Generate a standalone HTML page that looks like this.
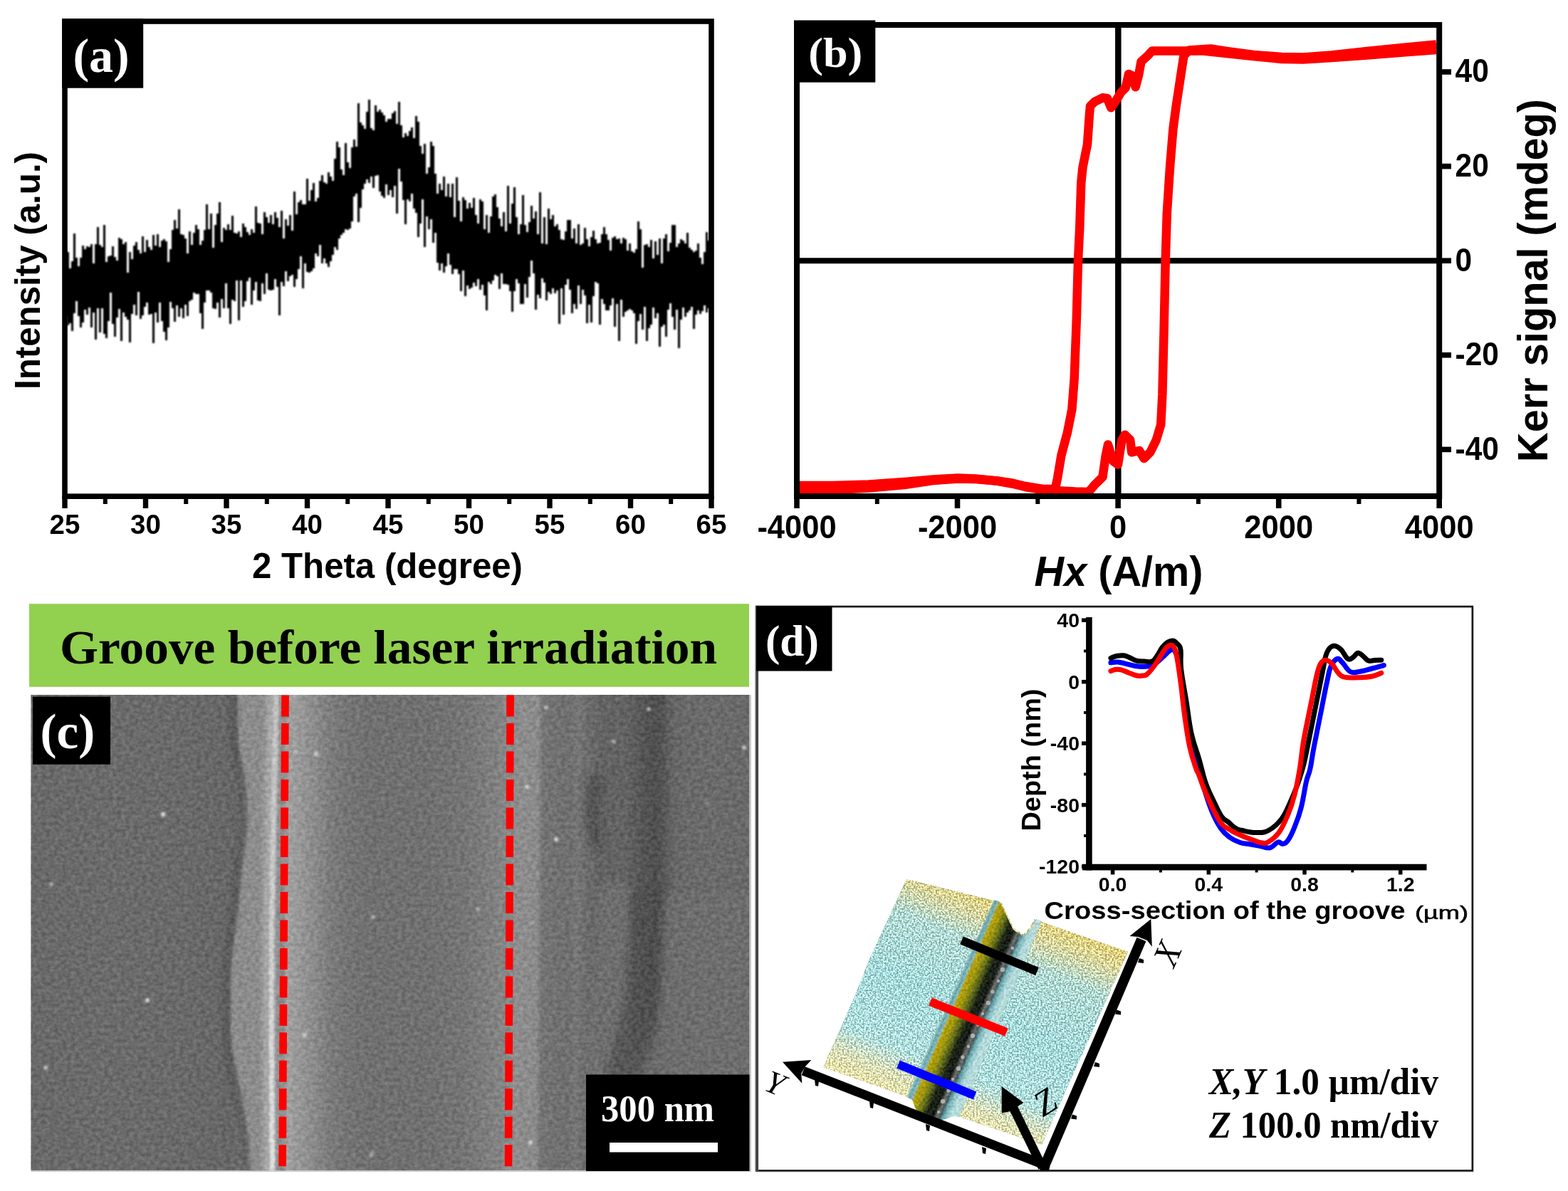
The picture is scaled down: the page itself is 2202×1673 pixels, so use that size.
<!DOCTYPE html>
<html lang="en">
<head>
<meta charset="utf-8">
<title>Figure: XRD, Kerr hysteresis, SEM and AFM of groove before laser irradiation</title>
<style>
html,body{margin:0;padding:0;background:#fff;}
body{width:2202px;height:1673px;overflow:hidden;font-family:'Liberation Sans', Arial, Helvetica, sans-serif;}
svg{display:block;}
text{white-space:pre;}
</style>
</head>
<body>
<svg width="2202" height="1673" viewBox="0 0 2202 1673">
<rect width="2202" height="1673" fill="#fff"/>
<defs>
<clipPath id="clipA"><rect x="91" y="30" width="908" height="667"/></clipPath>
<clipPath id="clipB"><rect x="1119" y="35" width="899" height="664"/></clipPath>
<filter id="soft" x="-2%" y="-10%" width="104%" height="120%"><feGaussianBlur stdDeviation="0.8"/></filter>
<linearGradient id="semg" gradientUnits="userSpaceOnUse" x1="43.5" y1="0" x2="1052.5" y2="0" gradientTransform="matrix(1 0 -0.00600 1 5.856 0)">
<stop offset="0.0005" stop-color="rgb(105,105,105)"/>
<stop offset="0.1056" stop-color="rgb(107,107,107)"/>
<stop offset="0.2047" stop-color="rgb(106,106,106)"/>
<stop offset="0.2542" stop-color="rgb(104,104,104)"/>
<stop offset="0.2839" stop-color="rgb(102,102,102)"/>
<stop offset="0.3494" stop-color="rgb(150,150,150)"/>
<stop offset="0.3612" stop-color="rgb(160,160,160)"/>
<stop offset="0.3781" stop-color="rgb(150,150,150)"/>
<stop offset="0.3979" stop-color="rgb(138,138,138)"/>
<stop offset="0.4177" stop-color="rgb(124,124,124)"/>
<stop offset="0.4425" stop-color="rgb(116,116,116)"/>
<stop offset="0.4722" stop-color="rgb(112,112,112)"/>
<stop offset="0.5515" stop-color="rgb(112,112,112)"/>
<stop offset="0.6011" stop-color="rgb(116,116,116)"/>
<stop offset="0.6407" stop-color="rgb(126,126,126)"/>
<stop offset="0.6625" stop-color="rgb(134,134,134)"/>
<stop offset="0.6754" stop-color="rgb(141,141,141)"/>
<stop offset="0.7061" stop-color="rgb(139,139,139)"/>
<stop offset="0.7131" stop-color="rgb(116,116,116)"/>
<stop offset="0.7498" stop-color="rgb(111,111,111)"/>
<stop offset="0.7616" stop-color="rgb(118,118,118)"/>
<stop offset="0.7716" stop-color="rgb(110,110,110)"/>
<stop offset="0.7944" stop-color="rgb(99,99,99)"/>
<stop offset="0.8290" stop-color="rgb(99,99,99)"/>
<stop offset="0.8489" stop-color="rgb(87,87,87)"/>
<stop offset="0.8687" stop-color="rgb(79,79,79)"/>
<stop offset="0.8806" stop-color="rgb(85,85,85)"/>
<stop offset="0.8935" stop-color="rgb(101,101,101)"/>
<stop offset="0.9083" stop-color="rgb(105,105,105)"/>
<stop offset="0.9480" stop-color="rgb(107,107,107)"/>
<stop offset="0.9995" stop-color="rgb(105,105,105)"/>
</linearGradient>
<filter id="semnoise" x="0" y="0" width="100%" height="100%" color-interpolation-filters="sRGB">
<feTurbulence type="fractalNoise" baseFrequency="0.17 0.2" numOctaves="2" seed="12" result="n"/>
<feColorMatrix in="n" type="matrix" values="1.5 0 0 0 -0.25  1.5 0 0 0 -0.25  1.5 0 0 0 -0.25  0 0 0 0 1" result="g"/>
<feComposite in="SourceGraphic" in2="g" operator="arithmetic" k1="0" k2="1" k3="0.14" k4="-0.07"/>
</filter>
<filter id="b6" x="-50%" y="-10%" width="200%" height="120%"><feGaussianBlur stdDeviation="6"/></filter>
<filter id="b3" x="-50%" y="-10%" width="200%" height="120%"><feGaussianBlur stdDeviation="3"/></filter>
<filter id="b2" x="-50%" y="-10%" width="200%" height="120%"><feGaussianBlur stdDeviation="1.8"/></filter>
<filter id="b15" x="-50%" y="-50%" width="200%" height="200%"><feGaussianBlur stdDeviation="1.6"/></filter>
<linearGradient id="ridgeg" x1="0" y1="0" x2="0" y2="1"><stop offset="0" stop-color="#c0c0c0"/><stop offset="0.5" stop-color="#cdcdcd"/><stop offset="1" stop-color="#e0e0e0"/></linearGradient>

<clipPath id="clipC"><rect x="43.5" y="976.0" width="1009.0" height="668.4"/></clipPath>
<linearGradient id="afmv" gradientUnits="userSpaceOnUse" x1="1430" y1="1275" x2="1312" y2="1560">
<stop offset="0" stop-color="#d8c670"/><stop offset="0.08" stop-color="#d2cc90"/><stop offset="0.22" stop-color="#a8d0c8"/>
<stop offset="0.5" stop-color="#9cd0d0"/><stop offset="0.80" stop-color="#a6d6d4"/><stop offset="0.92" stop-color="#d2d6ac"/><stop offset="1" stop-color="#e2dca0"/>
</linearGradient>
<linearGradient id="afmg" gradientUnits="userSpaceOnUse" x1="1334" y1="1402" x2="1396" y2="1429">
<stop offset="0" stop-color="#a8d2d4"/><stop offset="0.06" stop-color="#6aa6ac"/><stop offset="0.12" stop-color="#8ab8b6"/>
<stop offset="0.16" stop-color="#b8a008"/><stop offset="0.27" stop-color="#a09810"/>
<stop offset="0.40" stop-color="#5e6a1c"/><stop offset="0.52" stop-color="#1c2416"/><stop offset="0.66" stop-color="#181c18"/><stop offset="0.74" stop-color="#6c706c"/>
<stop offset="0.80" stop-color="#4a5a5a"/><stop offset="0.85" stop-color="#62a0a8"/><stop offset="0.92" stop-color="#90c4c8"/><stop offset="1" stop-color="#b4dada"/>
</linearGradient>
<filter id="afmnoise" x="0" y="0" width="100%" height="100%" color-interpolation-filters="sRGB">
<feTurbulence type="fractalNoise" baseFrequency="0.42" numOctaves="2" seed="3" result="n"/>
<feColorMatrix in="n" type="matrix" values="3 0 0 0 -1  3 0 0 0 -1  3 0 0 0 -1  0 0 0 0 1" result="g"/>
<feComposite in="SourceGraphic" in2="g" operator="arithmetic" k1="0" k2="1" k3="0.4" k4="-0.16"/>
<feComposite in2="SourceGraphic" operator="in"/>
</filter>
<filter id="gnoise" x="0" y="0" width="100%" height="100%" color-interpolation-filters="sRGB">
<feTurbulence type="fractalNoise" baseFrequency="0.3" numOctaves="1" seed="9" result="n"/>
<feColorMatrix in="n" type="matrix" values="2 0 0 0 -0.5  2 0 0 0 -0.5  2 0 0 0 -0.5  0 0 0 0 1" result="g"/>
<feComposite in="SourceGraphic" in2="g" operator="arithmetic" k1="0" k2="1" k3="0.16" k4="-0.08"/>
<feComposite in2="SourceGraphic" operator="in"/>
</filter>
</defs>
<g id="panel-a">
<g clip-path="url(#clipA)"><path d="M91 352v92h3v-92zM94 354v103h3v-103zM97 377v77h3v-77zM100 367v98h3v-98zM103 328v112h3v-112zM106 362v61h3v-61zM109 374v70h3v-70zM112 362v98h3v-98zM115 345v108h3v-108zM118 350v85h3v-85zM121 346v96h3v-96zM124 347v85h3v-85zM127 343v117h3v-117zM130 370v69h3v-69zM133 343v134h3v-134zM136 319v114h3v-114zM139 344v123h3v-123zM142 347v86h3v-86zM145 316v153h3v-153zM148 368v107h3v-107zM151 360v91h3v-91zM154 359v52h3v-52zM157 346v109h3v-109zM160 361v112h3v-112zM163 366v80h3v-80zM166 334v100h3v-100zM169 336v143h3v-143zM172 343v96h3v-96zM175 340v105h3v-105zM178 383v66h3v-66zM181 354v127h3v-127zM184 364v77h3v-77zM187 345v83h3v-83zM190 340v103h3v-103zM193 351v59h3v-59zM196 356v92h3v-92zM199 332v111h3v-111zM202 354v77h3v-77zM205 337v88h3v-88zM208 347v95h3v-95zM211 351v90h3v-90zM214 330v152h3v-152zM217 345v94h3v-94zM220 329v124h3v-124zM223 347v78h3v-78zM226 338v113h3v-113zM229 336v130h3v-130zM232 339v139h3v-139zM235 368v92h3v-92zM238 350v74h3v-74zM241 323v110h3v-110zM244 309v143h3v-143zM247 321v108h3v-108zM250 294v151h3v-151zM253 329v104h3v-104zM256 330v117h3v-117zM259 335v93h3v-93zM262 356v88h3v-88zM265 325v98h3v-98zM268 344v77h3v-77zM271 327v84h3v-84zM274 316v97h3v-97zM277 322v91h3v-91zM280 344v96h3v-96zM283 338v124h3v-124zM286 323v102h3v-102zM289 287v121h3v-121zM292 322v86h3v-86zM295 300v111h3v-111zM298 348v85h3v-85zM301 316v118h3v-118zM304 300v125h3v-125zM307 284v162h3v-162zM310 340v80h3v-80zM313 320v113h3v-113zM316 323v75h3v-75zM319 315v118h3v-118zM322 323v132h3v-132zM325 303v118h3v-118zM328 327v96h3v-96zM331 328v66h3v-66zM334 325v125h3v-125zM337 333v61h3v-61zM340 314v117h3v-117zM343 319v104h3v-104zM346 326v69h3v-69zM349 330v60h3v-60zM352 322v106h3v-106zM355 327v81h3v-81zM358 290v106h3v-106zM361 313v109h3v-109zM364 314v109h3v-109zM367 329v69h3v-69zM370 298v115h3v-115zM373 305v79h3v-79zM376 313v94h3v-94zM379 302v106h3v-106zM382 315v92h3v-92zM385 298v94h3v-94zM388 306v97h3v-97zM391 319v124h3v-124zM394 296v100h3v-100zM397 335v67h3v-67zM400 308v73h3v-73zM403 317v78h3v-78zM406 302v86h3v-86zM409 324v62h3v-62zM412 269v134h3v-134zM415 301v91h3v-91zM418 284v94h3v-94zM421 281v79h3v-79zM424 287v118h3v-118zM427 287v83h3v-83zM430 251v131h3v-131zM433 282v101h3v-101zM436 267v114h3v-114zM439 257v120h3v-120zM442 283v73h3v-73zM445 278v82h3v-82zM448 254v90h3v-90zM451 246v124h3v-124zM454 256v107h3v-107zM457 258v112h3v-112zM460 242v133h3v-133zM463 248v119h3v-119zM466 254v104h3v-104zM469 223v124h3v-124zM472 199v152h3v-152zM475 207v128h3v-128zM478 238v92h3v-92zM481 246v81h3v-81zM484 201v121h3v-121zM487 228v95h3v-95zM490 236v85h3v-85zM493 207v104h3v-104zM496 196v80h3v-80zM499 206v66h3v-66zM502 145v167h3v-167zM505 172v120h3v-120zM508 176v90h3v-90zM511 181v77h3v-77zM514 157v95h3v-95zM517 140v117h3v-117zM520 180v68h3v-68zM523 183v81h3v-81zM526 148v99h3v-99zM529 157v89h3v-89zM532 154v115h3v-115zM535 158v117h3v-117zM538 162v116h3v-116zM541 171v88h3v-88zM544 167v107h3v-107zM547 167v100h3v-100zM550 159v118h3v-118zM553 156v105h3v-105zM556 174v126h3v-126zM559 143v94h3v-94zM562 176v79h3v-79zM565 193v88h3v-88zM568 187v128h3v-128zM571 191v89h3v-89zM574 184v99h3v-99zM577 179v93h3v-93zM580 194v99h3v-99zM583 163v136h3v-136zM586 171v162h3v-162zM589 205v109h3v-109zM592 216v64h3v-64zM595 202v145h3v-145zM598 244v60h3v-60zM601 235v87h3v-87zM604 199v109h3v-109zM607 205v136h3v-136zM610 244v83h3v-83zM613 272v97h3v-97zM616 258v122h3v-122zM619 267v103h3v-103zM622 248v135h3v-135zM625 276v98h3v-98zM628 258v98h3v-98zM631 277v95h3v-95zM634 258v127h3v-127zM637 305v73h3v-73zM640 249v129h3v-129zM643 282v103h3v-103zM646 311v98h3v-98zM649 277v103h3v-103zM652 281v135h3v-135zM655 293v108h3v-108zM658 285v121h3v-121zM661 292v112h3v-112zM664 278v119h3v-119zM667 302v100h3v-100zM670 314v78h3v-78zM673 280v127h3v-127zM676 283v117h3v-117zM679 322v93h3v-93zM682 302v134h3v-134zM685 327v69h3v-69zM688 304v95h3v-95zM691 276v118h3v-118zM694 273v113h3v-113zM697 291v97h3v-97zM700 307v99h3v-99zM703 318v66h3v-66zM706 298v101h3v-101zM709 325v74h3v-74zM712 261v139h3v-139zM715 314v95h3v-95zM718 286v152h3v-152zM721 263v146h3v-146zM724 305v87h3v-87zM727 329v69h3v-69zM730 315v112h3v-112zM733 274v153h3v-153zM736 316v83h3v-83zM739 326v92h3v-92zM742 312v77h3v-77zM745 289v77h3v-77zM748 307v77h3v-77zM751 297v138h3v-138zM754 329v85h3v-85zM757 270v149h3v-149zM760 342v49h3v-49zM763 305v92h3v-92zM766 343v79h3v-79zM769 293v117h3v-117zM772 308v105h3v-105zM775 302v103h3v-103zM778 318v94h3v-94zM781 315v93h3v-93zM784 323v132h3v-132zM787 336v69h3v-69zM790 337v105h3v-105zM793 325v75h3v-75zM796 309v83h3v-83zM799 309v98h3v-98zM802 335v105h3v-105zM805 321v106h3v-106zM808 342v92h3v-92zM811 315v86h3v-86zM814 344v83h3v-83zM817 342v65h3v-65zM820 320v95h3v-95zM823 336v118h3v-118zM826 346v82h3v-82zM829 333v120h3v-120zM832 324v92h3v-92zM835 336v60h3v-60zM838 342v56h3v-56zM841 341v115h3v-115zM844 329v91h3v-91zM847 319v108h3v-108zM850 329v107h3v-107zM853 337v99h3v-99zM856 352v77h3v-77zM859 334v85h3v-85zM862 332v127h3v-127zM865 336v91h3v-91zM868 335v144h3v-144zM871 342v79h3v-79zM874 334v111h3v-111zM877 336v102h3v-102zM880 352v84h3v-84zM883 342v92h3v-92zM886 353v83h3v-83zM889 355v85h3v-85zM892 350v133h3v-133zM895 311v140h3v-140zM898 322v119h3v-119zM901 376v87h3v-87zM904 344v87h3v-87zM907 343v136h3v-136zM910 347v114h3v-114zM913 337v119h3v-119zM916 363v69h3v-69zM919 339v108h3v-108zM922 358v82h3v-82zM925 335v152h3v-152zM928 370v89h3v-89zM931 335v121h3v-121zM934 329v144h3v-144zM937 353v82h3v-82zM940 341v85h3v-85zM943 316v129h3v-129zM946 316v147h3v-147zM949 347v88h3v-88zM952 342v147h3v-147zM955 336v113h3v-113zM958 338v94h3v-94zM961 342v103h3v-103zM964 327v112h3v-112zM967 348v88h3v-88zM970 351v80h3v-80zM973 354v108h3v-108zM976 352v90h3v-90zM979 342v94h3v-94zM982 362v79h3v-79zM985 371v66h3v-66zM988 354v75h3v-75zM991 326v113h3v-113zM994 338v95h3v-95zM997 374v62h3v-62z" fill="#000" filter="url(#soft)"/></g>
<rect x="91" y="30" width="908" height="667.2" fill="none" stroke="#000" stroke-width="7.6"/>
<line x1="91.0" y1="697" x2="91.0" y2="714" stroke="#000" stroke-width="7.4"/>
<text transform="translate(91.0 750.2) scale(1 1.03)" x="0" y="0" font-family="'Liberation Sans', Arial, Helvetica, sans-serif" font-size="38.5" font-weight="bold" text-anchor="middle" fill="#000" >25</text>
<line x1="204.5" y1="697" x2="204.5" y2="714" stroke="#000" stroke-width="7.4"/>
<text transform="translate(204.5 750.2) scale(1 1.03)" x="0" y="0" font-family="'Liberation Sans', Arial, Helvetica, sans-serif" font-size="38.5" font-weight="bold" text-anchor="middle" fill="#000" >30</text>
<line x1="318.0" y1="697" x2="318.0" y2="714" stroke="#000" stroke-width="7.4"/>
<text transform="translate(318.0 750.2) scale(1 1.03)" x="0" y="0" font-family="'Liberation Sans', Arial, Helvetica, sans-serif" font-size="38.5" font-weight="bold" text-anchor="middle" fill="#000" >35</text>
<line x1="431.5" y1="697" x2="431.5" y2="714" stroke="#000" stroke-width="7.4"/>
<text transform="translate(431.5 750.2) scale(1 1.03)" x="0" y="0" font-family="'Liberation Sans', Arial, Helvetica, sans-serif" font-size="38.5" font-weight="bold" text-anchor="middle" fill="#000" >40</text>
<line x1="545.0" y1="697" x2="545.0" y2="714" stroke="#000" stroke-width="7.4"/>
<text transform="translate(545.0 750.2) scale(1 1.03)" x="0" y="0" font-family="'Liberation Sans', Arial, Helvetica, sans-serif" font-size="38.5" font-weight="bold" text-anchor="middle" fill="#000" >45</text>
<line x1="658.5" y1="697" x2="658.5" y2="714" stroke="#000" stroke-width="7.4"/>
<text transform="translate(658.5 750.2) scale(1 1.03)" x="0" y="0" font-family="'Liberation Sans', Arial, Helvetica, sans-serif" font-size="38.5" font-weight="bold" text-anchor="middle" fill="#000" >50</text>
<line x1="772.0" y1="697" x2="772.0" y2="714" stroke="#000" stroke-width="7.4"/>
<text transform="translate(772.0 750.2) scale(1 1.03)" x="0" y="0" font-family="'Liberation Sans', Arial, Helvetica, sans-serif" font-size="38.5" font-weight="bold" text-anchor="middle" fill="#000" >55</text>
<line x1="885.5" y1="697" x2="885.5" y2="714" stroke="#000" stroke-width="7.4"/>
<text transform="translate(885.5 750.2) scale(1 1.03)" x="0" y="0" font-family="'Liberation Sans', Arial, Helvetica, sans-serif" font-size="38.5" font-weight="bold" text-anchor="middle" fill="#000" >60</text>
<line x1="999.0" y1="697" x2="999.0" y2="714" stroke="#000" stroke-width="7.4"/>
<text transform="translate(999.0 750.2) scale(1 1.03)" x="0" y="0" font-family="'Liberation Sans', Arial, Helvetica, sans-serif" font-size="38.5" font-weight="bold" text-anchor="middle" fill="#000" >65</text>
<line x1="147.8" y1="697" x2="147.8" y2="708" stroke="#000" stroke-width="6"/>
<line x1="261.2" y1="697" x2="261.2" y2="708" stroke="#000" stroke-width="6"/>
<line x1="374.8" y1="697" x2="374.8" y2="708" stroke="#000" stroke-width="6"/>
<line x1="488.2" y1="697" x2="488.2" y2="708" stroke="#000" stroke-width="6"/>
<line x1="601.8" y1="697" x2="601.8" y2="708" stroke="#000" stroke-width="6"/>
<line x1="715.2" y1="697" x2="715.2" y2="708" stroke="#000" stroke-width="6"/>
<line x1="828.8" y1="697" x2="828.8" y2="708" stroke="#000" stroke-width="6"/>
<line x1="942.2" y1="697" x2="942.2" y2="708" stroke="#000" stroke-width="6"/>
<text x="544" y="812" font-family="'Liberation Sans', Arial, Helvetica, sans-serif" font-size="49.5" font-weight="bold" text-anchor="middle" fill="#000" textLength="380" lengthAdjust="spacingAndGlyphs" >2 Theta (degree)</text>
<text x="56" y="380" font-family="'Liberation Sans', Arial, Helvetica, sans-serif" font-size="49.5" font-weight="bold" text-anchor="middle" fill="#000" textLength="334" lengthAdjust="spacingAndGlyphs" transform="rotate(-90 56 380)" >Intensity (a.u.)</text>
<rect x="87.2" y="26.2" width="114" height="97.5" fill="#000"/>
<text x="142.1" y="100.9" font-family="'Liberation Serif', 'Times New Roman', Times, serif" font-size="68" font-weight="bold" text-anchor="middle" fill="#fff" >(a)</text>
</g>
<g id="panel-b">
<line x1="1119" y1="366.3" x2="2021" y2="366.3" stroke="#000" stroke-width="8"/>
<line x1="1570.3" y1="35" x2="1570.3" y2="697" stroke="#000" stroke-width="8.5"/>
<g clip-path="url(#clipB)" fill="none" stroke="#fe0000" stroke-width="12.5" stroke-linejoin="round" stroke-linecap="butt">
<polyline points="2017.0,70.0 1970.0,73.5 1920.0,77.5 1870.0,81.0 1830.0,83.5 1800.0,83.0 1760.0,79.0 1722.7,75.0 1690.0,71.5 1658.0,71.6 1630.0,71.6 1618.0,71.6 1612.0,78.0 1602.5,86.7 1599.0,106.0 1594.7,122.2 1589.4,106.0 1585.0,104.0 1580.7,123.3 1574.3,129.7 1567.8,140.5 1560.3,151.3 1555.0,138.3 1548.5,137.3 1537.7,142.6 1531.0,149.0 1530.0,160.0 1527.0,203.0 1520.5,235.0 1518.3,256.7 1516.2,321.2 1514.0,366.0 1511.9,446.0 1508.7,532.0 1505.4,575.0 1499.0,607.4 1490.4,639.7 1485.0,672.0 1481.8,687.0 1464.5,687.0 1440.0,683.0 1421.5,678.5 1400.0,675.5 1370.0,673.0 1345.0,672.5 1310.0,675.0 1270.0,681.0 1220.0,685.5 1170.0,688.0 1122.0,689.5"/>
<polyline points="1122.0,682.0 1170.0,682.0 1220.0,680.5 1270.0,677.0 1310.0,673.5 1345.0,671.5 1370.0,672.5 1400.0,675.5 1421.5,679.5 1440.0,684.0 1464.5,688.0 1490.0,689.5 1510.0,690.5 1529.0,691.0 1537.7,680.6 1548.5,670.0 1552.8,639.7 1556.0,624.6 1563.5,648.0 1570.0,652.6 1575.4,618.0 1579.7,610.7 1587.2,618.0 1589.3,635.4 1600.0,633.0 1606.6,644.0 1615.2,635.4 1623.8,618.0 1630.2,596.7 1632.4,553.7 1634.5,467.6 1636.7,366.0 1638.8,299.7 1643.0,235.0 1647.4,181.4 1651.7,149.0 1658.2,106.0 1662.5,78.0 1670.0,70.5 1700.0,68.5 1722.7,72.0 1760.0,77.0 1800.0,80.0 1830.0,80.5 1870.0,77.5 1920.0,72.0 1970.0,67.0 2017.0,62.5"/>
</g>
<rect x="1119" y="35" width="902.2" height="662" fill="none" stroke="#000" stroke-width="8"/>
<line x1="1119.0" y1="697" x2="1119.0" y2="714" stroke="#000" stroke-width="7.6"/>
<text transform="translate(1119.0 755.8) scale(1 1.06)" x="0" y="0" font-family="'Liberation Sans', Arial, Helvetica, sans-serif" font-size="43.5" font-weight="bold" text-anchor="middle" fill="#000" >-4000</text>
<line x1="1344.5" y1="697" x2="1344.5" y2="714" stroke="#000" stroke-width="7.6"/>
<text transform="translate(1344.5 755.8) scale(1 1.06)" x="0" y="0" font-family="'Liberation Sans', Arial, Helvetica, sans-serif" font-size="43.5" font-weight="bold" text-anchor="middle" fill="#000" >-2000</text>
<line x1="1570.1" y1="697" x2="1570.1" y2="714" stroke="#000" stroke-width="7.6"/>
<text transform="translate(1570.1 755.8) scale(1 1.06)" x="0" y="0" font-family="'Liberation Sans', Arial, Helvetica, sans-serif" font-size="43.5" font-weight="bold" text-anchor="middle" fill="#000" >0</text>
<line x1="1795.7" y1="697" x2="1795.7" y2="714" stroke="#000" stroke-width="7.6"/>
<text transform="translate(1795.7 755.8) scale(1 1.06)" x="0" y="0" font-family="'Liberation Sans', Arial, Helvetica, sans-serif" font-size="43.5" font-weight="bold" text-anchor="middle" fill="#000" >2000</text>
<line x1="2021.2" y1="697" x2="2021.2" y2="714" stroke="#000" stroke-width="7.6"/>
<text transform="translate(2021.2 755.8) scale(1 1.06)" x="0" y="0" font-family="'Liberation Sans', Arial, Helvetica, sans-serif" font-size="43.5" font-weight="bold" text-anchor="middle" fill="#000" >4000</text>
<line x1="1231.8" y1="697" x2="1231.8" y2="708" stroke="#000" stroke-width="6"/>
<line x1="1457.3" y1="697" x2="1457.3" y2="708" stroke="#000" stroke-width="6"/>
<line x1="1682.9" y1="697" x2="1682.9" y2="708" stroke="#000" stroke-width="6"/>
<line x1="1908.4" y1="697" x2="1908.4" y2="708" stroke="#000" stroke-width="6"/>
<line x1="2021" y1="101.0" x2="2038" y2="101.0" stroke="#000" stroke-width="7.6"/>
<text transform="translate(2043.5 115.4) scale(1 1.07)" x="0" y="0" font-family="'Liberation Sans', Arial, Helvetica, sans-serif" font-size="42.5" font-weight="bold" text-anchor="start" fill="#000" >40</text>
<line x1="2021" y1="233.6" x2="2038" y2="233.6" stroke="#000" stroke-width="7.6"/>
<text transform="translate(2043.5 248.0) scale(1 1.07)" x="0" y="0" font-family="'Liberation Sans', Arial, Helvetica, sans-serif" font-size="42.5" font-weight="bold" text-anchor="start" fill="#000" >20</text>
<line x1="2021" y1="366.2" x2="2038" y2="366.2" stroke="#000" stroke-width="7.6"/>
<text transform="translate(2043.5 380.6) scale(1 1.07)" x="0" y="0" font-family="'Liberation Sans', Arial, Helvetica, sans-serif" font-size="42.5" font-weight="bold" text-anchor="start" fill="#000" >0</text>
<line x1="2021" y1="498.8" x2="2038" y2="498.8" stroke="#000" stroke-width="7.6"/>
<text transform="translate(2043.5 513.2) scale(1 1.07)" x="0" y="0" font-family="'Liberation Sans', Arial, Helvetica, sans-serif" font-size="42.5" font-weight="bold" text-anchor="start" fill="#000" >-20</text>
<line x1="2021" y1="631.4" x2="2038" y2="631.4" stroke="#000" stroke-width="7.6"/>
<text transform="translate(2043.5 645.8) scale(1 1.07)" x="0" y="0" font-family="'Liberation Sans', Arial, Helvetica, sans-serif" font-size="42.5" font-weight="bold" text-anchor="start" fill="#000" >-40</text>
<text x="1452.5" y="823.3" font-family="'Liberation Sans', Arial, Helvetica, sans-serif" font-size="59" font-weight="bold" fill="#000" textLength="237" lengthAdjust="spacingAndGlyphs"><tspan font-style="italic">Hx</tspan> (A/m)</text>
<text x="2172.8" y="394" font-family="'Liberation Sans', Arial, Helvetica, sans-serif" font-size="58.5" font-weight="bold" text-anchor="middle" fill="#000" textLength="510" lengthAdjust="spacingAndGlyphs" transform="rotate(-90 2172.8 394)" >Kerr signal (mdeg)</text>
<rect x="1115" y="28.5" width="114.3" height="87.2" fill="#000"/>
<text x="1173.2" y="94.2" font-family="'Liberation Serif', 'Times New Roman', Times, serif" font-size="59" font-weight="bold" text-anchor="middle" fill="#fff" textLength="76" lengthAdjust="spacingAndGlyphs" >(b)</text>
</g>
<g id="panel-c">
<rect x="41" y="848.2" width="1011" height="116.6" fill="#92d050"/>
<text x="84" y="931.7" font-family="'Liberation Serif', 'Times New Roman', Times, serif" font-size="67" font-weight="bold" text-anchor="start" fill="#000" textLength="923" lengthAdjust="spacingAndGlyphs" >Groove before laser irradiation</text>
<g clip-path="url(#clipC)">
<g filter="url(#semnoise)">
<rect x="43.5" y="976.0" width="1009.0" height="668.4000000000001" fill="url(#semg)"/>
<g filter="url(#b2)">
<path d="M333,970 L335,1040 C338,1070 343,1085 345,1100 C348,1125 348,1145 347,1160 C346,1185 343,1200 340,1220 C338,1245 336,1262 335,1280 L330,1310 C326,1340 324,1360 324,1380 L324,1450 C326,1480 330,1500 335,1520 C342,1550 346,1575 349,1600 L352,1650 L400,1650 L400,970 Z" fill="#8c8c8c"/>
</g>
<g filter="url(#b3)">
<path d="M326,970 L328,1040 C331,1070 336,1085 338,1100 C341,1125 341,1145 340,1160 C339,1185 336,1200 333,1220 C331,1245 329,1262 328,1280 L323,1310 C319,1340 317,1360 317,1380 L317,1450 C319,1480 323,1500 328,1520 C335,1550 339,1575 342,1600 L345,1650" fill="none" stroke="#4c4c4c" stroke-width="10" opacity="0.45"/>
<path d="M384,970 L381,1100 L378,1300 L378,1450 L379,1650" fill="none" stroke="#b4b4b4" stroke-width="18" opacity="0.7"/>
</g>
<g filter="url(#b15)">
<path d="M388.3,970 C387,1040 386,1070 385,1100 C384,1180 382,1250 381.5,1300 C381,1360 381,1400 381.2,1450 C381.5,1520 382,1590 382.4,1650" fill="none" stroke="url(#ridgeg)" stroke-width="7"/>
</g>
<g filter="url(#b6)">
<path d="M826,1090 C818,1120 820,1160 830,1192 L846,1192 C840,1160 840,1120 848,1090 Z" fill="#3a3a3a" opacity="0.42"/>
<path d="M940,1255 L1052,1255 L1052,1520 L900,1520 C905,1490 918,1460 924,1430 C930,1390 932,1330 934,1290 Z" fill="#6e6e6e" opacity="0.85"/>
<path d="M884,1250 C882,1300 884,1350 878,1400 C872,1440 860,1470 852,1510 L888,1510 C896,1470 912,1440 918,1400 C924,1350 926,1300 930,1250 Z" fill="#4a4a4a" opacity="0.5"/>
<path d="M842,1240 L884,1240 C882,1300 880,1350 874,1400 C868,1440 858,1470 850,1510 L822,1510 Z" fill="#787878" opacity="0.55"/>
</g>
</g>
<g filter="url(#b15)" fill="#e8e8e8">
<circle cx="229" cy="1144" r="3.2" opacity="0.9"/>
<circle cx="72" cy="1242" r="2.6" opacity="0.6"/>
<circle cx="207" cy="1405" r="3.0" opacity="0.9"/>
<circle cx="64" cy="1500" r="2.8" opacity="0.8"/>
<circle cx="444" cy="1059" r="3.2" opacity="0.7"/>
<circle cx="416" cy="1056" r="2.2" opacity="0.5"/>
<circle cx="428" cy="1454" r="3.2" opacity="0.6"/>
<circle cx="521" cy="1623" r="2.6" opacity="0.5"/>
<circle cx="524" cy="1288" r="2.6" opacity="0.7"/>
<circle cx="671" cy="1277" r="2.6" opacity="0.6"/>
<circle cx="767" cy="994" r="2.8" opacity="0.7"/>
<circle cx="740" cy="1105" r="2.8" opacity="0.8"/>
<circle cx="781" cy="1179" r="3.0" opacity="0.9"/>
<circle cx="911" cy="996" r="2.8" opacity="0.7"/>
<circle cx="863" cy="1042" r="2.6" opacity="0.5"/>
<circle cx="1045" cy="1050" r="2.8" opacity="0.8"/>
<circle cx="993" cy="1128" r="2.2" opacity="0.4"/>
<circle cx="745" cy="1605" r="3.0" opacity="0.8"/>
<circle cx="444" cy="1286" r="2.0" opacity="0.4"/>
<circle cx="860" cy="1041" r="2.4" opacity="0.4"/>
<circle cx="523" cy="1619" r="2.4" opacity="0.4"/>
<circle cx="748" cy="1296" r="2.0" opacity="0.4"/>
</g>
</g>
<rect x="1052.5" y="976.0" width="2.5" height="669.9000000000001" fill="#c9c9c9"/>
<rect x="43.5" y="1644.4" width="1009.0" height="1.8" fill="#cfcfcf"/>
<line x1="400.6" y1="976.6" x2="396.6" y2="1638.3" stroke="#fe0000" stroke-width="10.6" stroke-dasharray="30 9.48"/>
<line x1="716.6" y1="976.6" x2="714" y2="1638.3" stroke="#fe0000" stroke-width="10.6" stroke-dasharray="30 9.48"/>
<rect x="46" y="978.6" width="109" height="95.2" fill="#000"/>
<text x="94.9" y="1051.1" font-family="'Liberation Serif', 'Times New Roman', Times, serif" font-size="69" font-weight="bold" text-anchor="middle" fill="#fff" >(c)</text>
<rect x="823" y="1509.5" width="229.5" height="135.5" fill="#000"/>
<text x="844" y="1574.7" font-family="'Liberation Serif', 'Times New Roman', Times, serif" font-size="52" font-weight="bold" text-anchor="start" fill="#fff" textLength="159" lengthAdjust="spacingAndGlyphs" >300 nm</text>
<rect x="856" y="1605" width="152" height="13.5" fill="#fff"/>
</g>
<g id="panel-d">
<rect x="1063.4" y="853.6" width="1006" height="792.6" fill="none" stroke="#dcdcdc" stroke-width="1.6"/>
<rect x="1062.2" y="852" width="1005.6" height="792.4" fill="none" stroke="#1a1a1a" stroke-width="2.6"/>
<rect x="1060.6" y="851" width="4.6" height="794.5" fill="#6a6a6a"/>
<rect x="1062" y="851" width="2.4" height="794.5" fill="#3a3a3a"/>
<path d="M1273,1235 L1403,1267 L1454,1292 L1584,1337 L1463,1608 L1339,1566 L1281,1543 L1156,1499 L1200,1400 L1222,1345 Z" fill="url(#afmv)" filter="url(#afmnoise)"/>
<path d="M1396,1264 L1403,1266 L1411,1281 L1423,1306 L1437,1315 L1448,1304 L1455,1291 L1463,1294 L1347,1569 L1339,1568 L1322,1574 L1287,1561 L1281,1545 L1273,1541 Z" fill="url(#afmg)" filter="url(#gnoise)"/>
<path d="M1404,1262 L1412,1280 L1424,1304 L1437,1312.5 L1447,1302 L1454,1288 L1440,1270 Z" fill="#fff"/>
<circle cx="1422" cy="1332" r="2.2" fill="#c8c8c8" opacity="0.75"/><circle cx="1416" cy="1347" r="2.7" fill="#c8c8c8" opacity="0.75"/><circle cx="1408" cy="1362" r="3.2" fill="#c8c8c8" opacity="0.75"/><circle cx="1402" cy="1378" r="2.2" fill="#c8c8c8" opacity="0.75"/><circle cx="1394" cy="1393" r="2.7" fill="#c8c8c8" opacity="0.75"/><circle cx="1388" cy="1409" r="3.2" fill="#c8c8c8" opacity="0.75"/><circle cx="1380" cy="1424" r="2.2" fill="#c8c8c8" opacity="0.75"/><circle cx="1374" cy="1439" r="2.7" fill="#c8c8c8" opacity="0.75"/><circle cx="1366" cy="1455" r="3.2" fill="#c8c8c8" opacity="0.75"/><circle cx="1360" cy="1470" r="2.2" fill="#c8c8c8" opacity="0.75"/><circle cx="1352" cy="1485" r="2.7" fill="#c8c8c8" opacity="0.75"/><circle cx="1346" cy="1501" r="3.2" fill="#c8c8c8" opacity="0.75"/><circle cx="1338" cy="1516" r="2.2" fill="#c8c8c8" opacity="0.75"/><circle cx="1332" cy="1532" r="2.7" fill="#c8c8c8" opacity="0.75"/><circle cx="1324" cy="1547" r="3.2" fill="#c8c8c8" opacity="0.75"/><circle cx="1318" cy="1562" r="2.2" fill="#c8c8c8" opacity="0.75"/>
<line x1="1350.5" y1="1321" x2="1456.5" y2="1364.5" stroke="#000" stroke-width="12"/>
<line x1="1306.5" y1="1407" x2="1413.5" y2="1450" stroke="#fe0000" stroke-width="12"/>
<line x1="1261.5" y1="1495" x2="1369" y2="1539" stroke="#0000fe" stroke-width="12"/>
<line x1="1469" y1="1633" x2="1603" y2="1319.5" stroke="#000" stroke-width="14"/>
<path d="M1616.3,1291 L1586.5,1315 L1598.5,1316 L1611,1321 L1617.8,1329.8 Z" fill="#000"/>
<line x1="1128" y1="1504.2" x2="1465" y2="1635.6" stroke="#000" stroke-width="13"/>
<path d="M1099,1491.8 L1139.4,1489 L1130.7,1498.3 L1125.2,1508 L1126.3,1521.8 Z" fill="#000"/>
<line x1="1464" y1="1640" x2="1422.5" y2="1555" stroke="#000" stroke-width="12.4"/>
<path d="M1406.7,1526 L1437.4,1549 L1430,1553.5 L1419.5,1561 L1406.7,1563.6 Z" fill="#000"/>
<path d="M1457,1632.5 L1466,1627 L1476,1632 L1473,1644.2 L1461,1644.2 Z" fill="#000"/>
<path d="M1600,1346 l6,2 l0,5 l-8,-1 z" fill="#000"/>
<path d="M1568,1418.5 l6,2 l0,5 l-8,-1 z" fill="#000"/>
<path d="M1538,1492 l6,2 l0,5 l-8,-1 z" fill="#000"/>
<path d="M1506,1565.5 l6,2 l0,5 l-8,-1 z" fill="#000"/>
<path d="M1144,1516 l6,2 l-1,8 l-4,-1 z" fill="#000"/>
<path d="M1221,1547 l6,2 l-1,8 l-4,-1 z" fill="#000"/>
<path d="M1300,1579 l6,2 l-1,8 l-4,-1 z" fill="#000"/>
<path d="M1379,1611 l6,2 l-1,8 l-4,-1 z" fill="#000"/>
<text transform="translate(1639.6 1339.8) rotate(-66)" font-family="'Liberation Serif', 'Times New Roman', Times, serif" font-size="50" font-style="italic" fill="#000" text-anchor="middle" y="16.5">X</text>
<text transform="translate(1088.5 1521.5) rotate(22)" font-family="'Liberation Serif', 'Times New Roman', Times, serif" font-size="45" font-style="italic" fill="#000" text-anchor="middle" y="15">Y</text>
<text transform="translate(1467.5 1548.5) rotate(-32)" font-family="'Liberation Serif', 'Times New Roman', Times, serif" font-size="50" font-style="italic" fill="#000" text-anchor="middle" y="16.5">Z</text>
<line x1="1529.4" y1="867" x2="1529.4" y2="1222.6" stroke="#000" stroke-width="8.6"/>
<line x1="1520" y1="1218.2" x2="2003.5" y2="1218.2" stroke="#000" stroke-width="8.8"/>
<line x1="1519" y1="871.2" x2="1529.4" y2="871.2" stroke="#000" stroke-width="5.5"/>
<text x="1516" y="881.4" font-family="'Liberation Sans', Arial, Helvetica, sans-serif" font-size="28.5" font-weight="bold" text-anchor="end" fill="#000" >40</text>
<line x1="1519" y1="957.7" x2="1529.4" y2="957.7" stroke="#000" stroke-width="5.5"/>
<text x="1516" y="967.9" font-family="'Liberation Sans', Arial, Helvetica, sans-serif" font-size="28.5" font-weight="bold" text-anchor="end" fill="#000" >0</text>
<line x1="1519" y1="1044.2" x2="1529.4" y2="1044.2" stroke="#000" stroke-width="5.5"/>
<text x="1516" y="1054.4" font-family="'Liberation Sans', Arial, Helvetica, sans-serif" font-size="28.5" font-weight="bold" text-anchor="end" fill="#000" >-40</text>
<line x1="1519" y1="1130.7" x2="1529.4" y2="1130.7" stroke="#000" stroke-width="5.5"/>
<text x="1516" y="1140.9" font-family="'Liberation Sans', Arial, Helvetica, sans-serif" font-size="28.5" font-weight="bold" text-anchor="end" fill="#000" >-80</text>
<line x1="1519" y1="1217.2" x2="1529.4" y2="1217.2" stroke="#000" stroke-width="5.5"/>
<text x="1516" y="1227.4" font-family="'Liberation Sans', Arial, Helvetica, sans-serif" font-size="28.5" font-weight="bold" text-anchor="end" fill="#000" >-120</text>
<line x1="1522" y1="914.5" x2="1529.4" y2="914.5" stroke="#000" stroke-width="4"/>
<line x1="1522" y1="1001.0" x2="1529.4" y2="1001.0" stroke="#000" stroke-width="4"/>
<line x1="1522" y1="1087.5" x2="1529.4" y2="1087.5" stroke="#000" stroke-width="4"/>
<line x1="1522" y1="1174.0" x2="1529.4" y2="1174.0" stroke="#000" stroke-width="4"/>
<line x1="1562.6" y1="1218.2" x2="1562.6" y2="1228.5" stroke="#000" stroke-width="5.5"/>
<text x="1562.6" y="1252.4" font-family="'Liberation Sans', Arial, Helvetica, sans-serif" font-size="28.5" font-weight="bold" text-anchor="middle" fill="#000" >0.0</text>
<line x1="1697.3" y1="1218.2" x2="1697.3" y2="1228.5" stroke="#000" stroke-width="5.5"/>
<text x="1697.3" y="1252.4" font-family="'Liberation Sans', Arial, Helvetica, sans-serif" font-size="28.5" font-weight="bold" text-anchor="middle" fill="#000" >0.4</text>
<line x1="1832.0" y1="1218.2" x2="1832.0" y2="1228.5" stroke="#000" stroke-width="5.5"/>
<text x="1832.0" y="1252.4" font-family="'Liberation Sans', Arial, Helvetica, sans-serif" font-size="28.5" font-weight="bold" text-anchor="middle" fill="#000" >0.8</text>
<line x1="1966.7" y1="1218.2" x2="1966.7" y2="1228.5" stroke="#000" stroke-width="5.5"/>
<text x="1966.7" y="1252.4" font-family="'Liberation Sans', Arial, Helvetica, sans-serif" font-size="28.5" font-weight="bold" text-anchor="middle" fill="#000" >1.2</text>
<line x1="1629.9" y1="1218.2" x2="1629.9" y2="1225.5" stroke="#000" stroke-width="4"/>
<line x1="1764.6" y1="1218.2" x2="1764.6" y2="1225.5" stroke="#000" stroke-width="4"/>
<line x1="1899.3" y1="1218.2" x2="1899.3" y2="1225.5" stroke="#000" stroke-width="4"/>
<text x="1460.5" y="1067.5" font-family="'Liberation Sans', Arial, Helvetica, sans-serif" font-size="37" font-weight="bold" text-anchor="middle" fill="#000" textLength="200" lengthAdjust="spacingAndGlyphs" transform="rotate(-90 1460.5 1067.5)" >Depth (nm)</text>
<text x="1466.5" y="1290.7" font-family="'Liberation Sans', Arial, Helvetica, sans-serif" font-weight="bold" fill="#000" font-size="35.5" textLength="507" lengthAdjust="spacingAndGlyphs">Cross-section of the groove</text>
<text x="1987" y="1290.7" font-family="'Liberation Sans', Arial, Helvetica, sans-serif" font-weight="normal" fill="#000" stroke="#000" stroke-width="0.6" font-size="26" textLength="75" lengthAdjust="spacingAndGlyphs">(µm)</text>
<g fill="none" stroke-width="7" stroke-linejoin="round" stroke-linecap="round">
<path d="M1559.9,930.8C1561.9,930.6 1565.6,929.6 1570.0,930.0C1574.4,930.4 1575.7,931.3 1581.7,932.6C1587.7,933.9 1592.5,935.9 1599.8,936.3C1607.1,936.7 1611.5,937.0 1618.0,934.5C1624.5,932.0 1627.4,927.8 1632.5,923.6C1637.6,919.4 1639.9,915.2 1643.4,913.5C1646.9,911.8 1647.5,910.7 1650.0,915.0C1652.5,919.3 1653.8,923.0 1656.0,935.0C1658.2,947.0 1658.8,958.0 1661.0,975.0C1663.2,992.0 1664.0,1003.0 1667.0,1020.0C1670.0,1037.0 1671.4,1043.0 1676.0,1060.0C1680.6,1077.0 1684.8,1089.0 1690.0,1105.0C1695.2,1121.0 1697.1,1128.3 1702.0,1140.0C1706.9,1151.7 1709.3,1156.3 1714.3,1163.6C1719.3,1170.9 1721.6,1172.3 1727.0,1176.3C1732.4,1180.3 1735.7,1181.6 1741.5,1183.5C1747.3,1185.4 1750.3,1185.0 1756.0,1186.0C1761.7,1187.0 1764.5,1187.5 1770.0,1188.5C1775.5,1189.5 1778.7,1191.9 1783.6,1190.8C1788.5,1189.7 1790.9,1184.1 1794.5,1183.0C1798.1,1181.9 1798.8,1186.0 1801.7,1185.4C1804.6,1184.8 1805.7,1184.7 1809.0,1180.0C1812.3,1175.3 1814.4,1170.8 1818.0,1161.7C1821.6,1152.6 1823.9,1147.2 1827.2,1134.5C1830.5,1121.8 1831.9,1109.1 1834.4,1098.2C1836.9,1087.3 1837.7,1089.9 1839.9,1080.0C1842.1,1070.1 1842.0,1066.0 1845.3,1048.9C1848.6,1031.8 1852.6,1012.6 1856.2,994.4C1859.8,976.2 1860.9,969.6 1863.5,958.0C1866.1,946.4 1866.1,942.8 1869.0,936.3C1871.9,929.8 1874.7,926.5 1878.0,925.4C1881.3,924.3 1881.7,927.2 1885.3,930.8C1888.9,934.4 1891.5,941.0 1896.2,943.5C1900.9,946.0 1902.8,944.4 1909.0,943.5C1915.2,942.6 1920.1,940.8 1927.0,939.0C1933.9,937.2 1940.1,935.4 1943.4,934.5" stroke="#0000fe"/>
<path d="M1559.9,924.5C1561.5,923.9 1564.4,922.2 1568.0,921.5C1571.6,920.8 1574.2,920.3 1578.0,920.8C1581.8,921.3 1583.4,922.5 1587.0,924.0C1590.6,925.5 1592.2,927.1 1596.2,928.1C1600.2,929.1 1602.6,928.8 1607.0,929.0C1611.4,929.2 1614.4,930.6 1618.0,929.0C1621.6,927.4 1622.1,925.0 1625.0,921.0C1627.9,917.0 1629.5,912.8 1632.5,909.0C1635.5,905.2 1637.1,903.8 1640.0,902.0C1642.9,900.2 1644.4,899.6 1647.0,900.0C1649.6,900.4 1650.8,901.5 1653.0,904.0C1655.2,906.5 1656.9,905.5 1658.0,912.7C1659.1,919.9 1657.1,925.5 1658.7,940.0C1660.3,954.5 1663.1,967.2 1666.0,985.3C1668.9,1003.4 1669.6,1014.4 1673.2,1030.7C1676.8,1047.0 1680.1,1053.1 1684.1,1067.0C1688.1,1080.9 1689.1,1088.3 1693.2,1100.0C1697.3,1111.7 1700.0,1116.0 1704.5,1125.4C1709.0,1134.8 1711.4,1141.1 1715.6,1147.0C1719.8,1152.9 1721.4,1151.7 1725.3,1155.0C1729.2,1158.3 1731.5,1161.3 1735.3,1163.6C1739.1,1165.9 1738.9,1165.3 1744.5,1166.5C1750.1,1167.7 1755.9,1169.5 1763.3,1169.5C1770.7,1169.5 1774.2,1170.4 1781.5,1166.5C1788.8,1162.6 1793.8,1158.2 1800.0,1150.0C1806.2,1141.8 1807.9,1135.8 1812.6,1125.4C1817.3,1115.0 1819.9,1108.3 1823.5,1098.0C1827.1,1087.7 1827.9,1085.6 1830.8,1074.0C1833.7,1062.4 1834.4,1057.5 1838.0,1039.8C1841.6,1022.1 1845.0,1005.3 1849.0,985.3C1853.0,965.3 1855.5,952.7 1858.0,940.0C1860.5,927.3 1859.9,927.5 1861.7,921.7C1863.5,915.9 1864.5,913.7 1867.0,910.8C1869.5,907.9 1871.1,906.8 1874.4,907.2C1877.7,907.6 1879.9,909.1 1883.5,912.7C1887.1,916.3 1889.3,923.2 1892.6,925.4C1895.9,927.6 1896.9,925.2 1899.8,923.6C1902.7,922.0 1904.1,917.6 1907.0,917.2C1909.9,916.8 1911.5,919.5 1914.4,921.7C1917.3,923.9 1918.5,926.9 1921.6,928.1C1924.7,929.3 1926.4,927.7 1930.0,927.5C1933.6,927.3 1937.8,927.3 1939.8,927.2" stroke="#000"/>
<path d="M1559.9,942.6C1561.1,942.2 1563.1,940.9 1566.0,940.5C1568.9,940.1 1570.6,939.9 1574.4,940.8C1578.2,941.7 1580.6,943.4 1585.0,945.0C1589.4,946.6 1592.4,948.2 1596.2,949.0C1600.0,949.8 1601.1,949.4 1604.0,949.0C1606.9,948.6 1607.2,950.1 1610.7,947.2C1614.2,944.3 1616.9,941.0 1621.6,934.5C1626.3,928.0 1630.6,919.8 1634.3,914.5C1638.0,909.2 1637.8,909.6 1640.0,908.0C1642.2,906.4 1643.4,905.9 1645.2,906.3C1647.0,906.7 1647.5,906.9 1649.0,910.0C1650.5,913.1 1650.7,912.1 1652.5,921.7C1654.3,931.3 1655.8,941.6 1658.0,958.0C1660.2,974.4 1660.9,985.3 1663.4,1003.5C1665.9,1021.7 1667.4,1033.6 1670.7,1048.9C1674.0,1064.2 1677.2,1072.2 1679.7,1080.0C1682.2,1087.8 1680.5,1080.7 1683.4,1088.0C1686.3,1095.3 1688.5,1103.4 1694.3,1116.3C1700.1,1129.2 1705.9,1142.9 1712.4,1152.7C1718.9,1162.5 1720.4,1161.0 1727.0,1165.4C1733.6,1169.8 1738.6,1171.6 1745.2,1174.5C1751.8,1177.4 1754.6,1178.1 1760.0,1180.0C1765.4,1181.9 1768.1,1183.5 1772.4,1184.0C1776.7,1184.5 1776.7,1185.5 1781.5,1182.5C1786.3,1179.5 1790.8,1176.8 1796.3,1169.0C1801.8,1161.2 1804.7,1154.1 1809.0,1143.6C1813.3,1133.1 1814.7,1129.0 1818.0,1116.3C1821.3,1103.6 1822.7,1095.3 1825.3,1080.0C1827.9,1064.7 1827.5,1058.7 1830.8,1039.8C1834.1,1020.9 1838.1,1003.5 1841.7,985.3C1845.3,967.1 1846.5,959.5 1849.0,949.0C1851.5,938.5 1851.9,937.0 1854.4,932.6C1856.9,928.2 1858.4,927.2 1861.7,927.2C1865.0,927.2 1867.5,929.3 1870.8,932.6C1874.1,935.9 1874.8,939.9 1878.0,943.5C1881.2,947.1 1880.8,949.2 1887.0,950.8C1893.2,952.4 1901.0,951.9 1909.0,951.7C1917.0,951.5 1920.8,951.3 1927.0,950.0C1933.2,948.7 1937.2,946.3 1939.8,945.4" stroke="#fe0000"/>
</g>
<text x="1698" y="1537.2" font-family="'Liberation Serif', 'Times New Roman', Times, serif" font-weight="bold" font-size="53" fill="#000" textLength="322" lengthAdjust="spacingAndGlyphs"><tspan font-style="italic">X,Y</tspan> 1.0 µm/div</text>
<text x="1698" y="1598.4" font-family="'Liberation Serif', 'Times New Roman', Times, serif" font-weight="bold" font-size="53" fill="#000" textLength="322" lengthAdjust="spacingAndGlyphs"><tspan font-style="italic">Z</tspan> 100.0 nm/div</text>
<rect x="1062" y="851" width="106.5" height="91.6" fill="#000"/>
<text x="1112.4" y="920.9" font-family="'Liberation Serif', 'Times New Roman', Times, serif" font-size="61" font-weight="bold" text-anchor="middle" fill="#fff" textLength="75" lengthAdjust="spacingAndGlyphs" >(d)</text>
</g>
</svg>
</body>
</html>
